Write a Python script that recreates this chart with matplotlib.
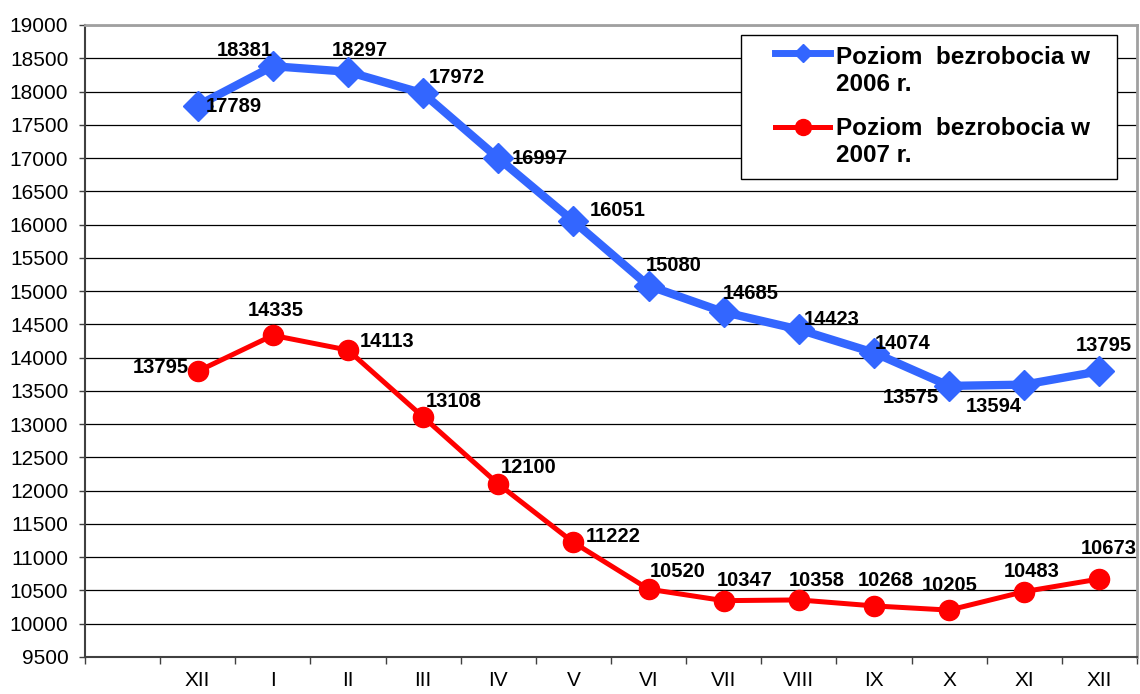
import matplotlib.pyplot as plt
from matplotlib.lines import Line2D
from matplotlib.patches import Rectangle
import numpy as np

plt.rcParams['font.family'] = ['Liberation Sans', 'DejaVu Sans']

months = ['', 'XII', 'I', 'II', 'III', 'IV', 'V', 'VI', 'VII', 'VIII', 'IX', 'X', 'XI', 'XII']
bezrobocie_2006 = [17789, 18381, 18297, 17972, 16997, 16051, 15080, 14685, 14423, 14074, 13575, 13594, 13795]
bezrobocie_2007 = [13795, 14335, 14113, 13108, 12100, 11222, 10520, 10347, 10358, 10268, 10205, 10483, 10673]
labels = ['Poziom  bezrobocia w\n2006 r.', 'Poziom  bezrobocia w\n2007 r.']

# label offsets in pixels (dx, dy) relative to each point
off_2006 = [(36, -1), (-28, 16), (12, 21), (34, 16), (42, 0), (44, 11), (25, 20), (27, 19), (33, 10), (29, 9),
            (-38, -12), (-31, -22), (4, 26)]
off_2007 = [(-37, 4), (3, 25), (39, 9), (31, 15), (30, 17), (40, 6), (29, 18), (21, 20), (18, 19), (12, 25),
            (1, 25), (7, 20), (9, 30)]

W, H = 1140, 694
fig = plt.figure(figsize=(W / 100, H / 100), dpi=100)
ax = fig.add_axes([85 / W, 1 - 657 / H, (1137 - 85) / W, (657 - 25) / H])

x = np.arange(1, len(months))
ax.plot(x, bezrobocie_2006, color='#3366FF', lw=6, marker='D', ms=15, zorder=3)
ax.plot(x, bezrobocie_2007, color='#FF0000', lw=3.6, marker='o', ms=14.5, zorder=3)

for xi, v, o in zip(x, bezrobocie_2006, off_2006):
    ax.annotate(str(v), (xi, v), xytext=o, textcoords='offset pixels', ha='center', va='center',
                fontsize=14.5, fontweight='bold', zorder=4)
for xi, v, o in zip(x, bezrobocie_2007, off_2007):
    ax.annotate(str(v), (xi, v), xytext=o, textcoords='offset pixels', ha='center', va='center',
                fontsize=14.5, fontweight='bold', zorder=4)

ax.set_xlim(-0.5, len(months) - 0.5)
ax.set_ylim(9500, 19000)
ax.set_yticks(np.arange(9500, 19001, 500))
ax.tick_params(axis='y', labelsize=15, length=4, direction='out', width=1, color='#404040', pad=8)

ax.set_xticks(np.arange(-0.5, len(months)), labels=[])
ax.set_xticks(np.arange(len(months)), labels=months, minor=True)
ax.tick_params(axis='x', which='major', length=5, width=1, color='#404040')
ax.tick_params(axis='x', which='minor', length=0, labelsize=15, pad=10)

ax.grid(axis='y', color='black', lw=0.9, zorder=1)
for s in ['left', 'bottom']:
    ax.spines[s].set_color('#404040')
    ax.spines[s].set_linewidth(1.5)
for s in ['top', 'right']:
    ax.spines[s].set_color('#A0A0A0')
    ax.spines[s].set_linewidth(2)

# legend drawn by hand so the handles sit on the first text line
def fx(px):
    return px / W

def fy(py):
    return 1 - py / H

fig.patches.append(Rectangle((fx(741), fy(179)), fx(1117) - fx(741), fy(35) - fy(179),
                             transform=fig.transFigure, facecolor='white', edgecolor='black',
                             lw=1, zorder=5))
handles = [('#3366FF', 5, 'D', 9), ('#FF0000', 3.6, 'o', 11.5)]
for (hy, ty), (c, lw, m, ms), lab in zip([(53, 71), (127, 142)], handles, labels):
    fig.lines.append(Line2D([fx(775), fx(830)], [fy(hy), fy(hy)], transform=fig.transFigure,
                            color=c, lw=lw, zorder=6))
    fig.lines.append(Line2D([fx(802.5)], [fy(hy)], transform=fig.transFigure, color=c,
                            marker=m, ms=ms, ls='none', zorder=6))
    fig.text(fx(836), fy(ty), lab, ha='left', va='center', fontsize=17.5, fontweight='bold',
             linespacing=1.25, zorder=7)

fig.savefig('out.png', dpi=100)
